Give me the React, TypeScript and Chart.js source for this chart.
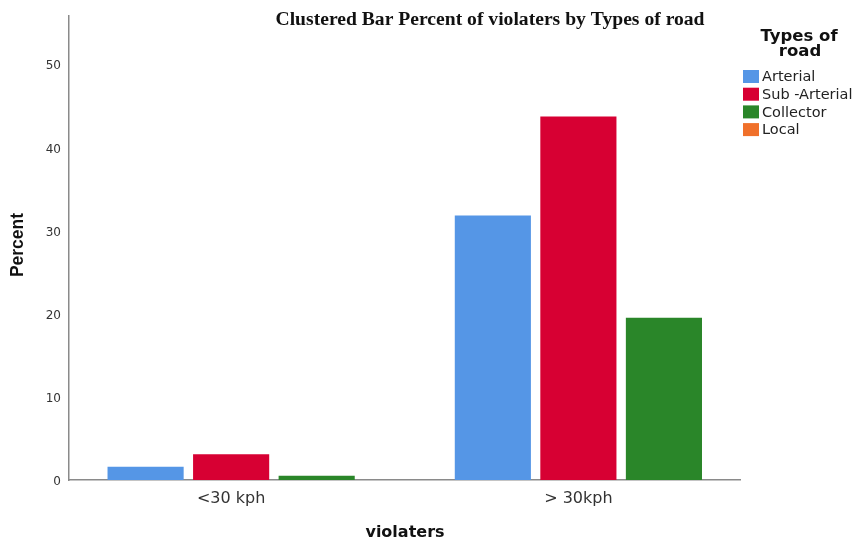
import { useEffect, useRef } from "react";
import { Chart, registerables } from "chart.js";

Chart.register(...registerables);

// ---- data ----
const chartTitle = "Clustered Bar Percent of violaters by Types of road";
const xTitle = "violaters";
const yTitle = "Percent";
const legendTitle = ["Types of", "road"];
const categories = ["<30 kph", "> 30kph"];
const seriesNames = ["Arterial", "Sub -Arterial", "Collector", "Local"];
const arterial = [1.6, 31.8];
const subArterial = [3.1, 43.7];
const collector = [0.5, 19.5];
const local: (number | null)[] = [null, null];
const seriesColors = ["#5596E6", "#D70033", "#2A8629", "#F0702A"];
const yTicks = [0, 10, 20, 30, 40, 50];

const seriesValues = [arterial, subArterial, collector, local];

const textPlugin = {
  id: "spssText",
  afterDraw(chart: any) {
    const ctx = chart.ctx as CanvasRenderingContext2D;
    ctx.save();
    // main title (slightly widened like the reference)
    ctx.fillStyle = "#111";
    ctx.font = 'bold 18px "Liberation Serif"';
    ctx.textAlign = "center";
    ctx.textBaseline = "alphabetic";
    ctx.save();
    ctx.translate(490, 25);
    ctx.scale(1.09, 1);
    ctx.fillText(chartTitle, 0, 0);
    ctx.restore();

    // x title
    ctx.fillStyle = "#111";
    ctx.font = 'bold 16px "DejaVu Sans"';
    ctx.fillText(xTitle, 405, 537);

    // y title
    ctx.save();
    ctx.translate(18, 245);
    ctx.rotate(-Math.PI / 2);
    ctx.font = 'bold 17.5px "Liberation Sans"';
    ctx.textBaseline = "middle";
    ctx.fillText(yTitle, 0, 0);
    ctx.restore();

    // legend
    ctx.font = 'bold 16.5px "DejaVu Sans"';
    ctx.textBaseline = "middle";
    ctx.fillStyle = "#111";
    ctx.fillText(legendTitle[0], 799, 37);
    ctx.fillText(legendTitle[1], 800, 52);

    ctx.textAlign = "left";
    ctx.font = '14.5px "DejaVu Sans"';
    chart.data.datasets.forEach((ds: any, i: number) => {
      const y = 70 + i * 17.7;
      ctx.fillStyle = ds.backgroundColor;
      ctx.fillRect(743, y, 16, 13);
      ctx.fillStyle = "#222";
      ctx.fillText(ds.label, 762, y + 7.5);
    });
    ctx.restore();
  },
};

export default function App() {
  const ref = useRef<HTMLCanvasElement | null>(null);

  useEffect(() => {
    if (!ref.current) return;
    const axisBorder = { display: true, color: "#8a8a8a", width: 1.5 };
    const chart = new Chart(ref.current, {
      type: "bar",
      data: {
        datasets: seriesNames.map((name, si) => ({
          label: name,
          data: seriesValues[si].map((v, ci) => ({ x: ci, y: v })),
          backgroundColor: seriesColors[si],
          borderWidth: 0,
          skipNull: true,
        })),
      } as any,
      options: {
        animation: false,
        responsive: false,
        maintainAspectRatio: false,
        layout: { padding: { left: 0, right: 116, top: 16, bottom: 32 } },
        datasets: {
          bar: { skipNull: true, categoryPercentage: 0.739, barPercentage: 0.89 },
        } as any,
        plugins: {
          legend: { display: false },
          tooltip: { enabled: false },
          title: { display: false },
        },
        scales: {
          x: {
            type: "linear",
            offset: false,
            min: -0.4669,
            max: 1.4654,
            grid: { display: false, drawTicks: false },
            border: axisBorder,
            afterBuildTicks: (s: any) => {
              s.ticks = categories.map((_, i) => ({ value: i }));
            },
            afterFit: (s: any) => {
              s.height = 30;
            },
            ticks: {
              autoSkip: false,
              maxRotation: 0,
              padding: 9,
              color: "#333",
              font: { family: "DejaVu Sans", size: 16 },
              callback: (v: any) => categories[v as number] ?? "",
            },
          },
          y: {
            min: 0,
            max: 55.8,
            grid: { display: false, drawTicks: false },
            border: axisBorder,
            afterBuildTicks: (s: any) => {
              s.ticks = yTicks.map((v) => ({ value: v }));
            },
            afterFit: (s: any) => {
              s.width = 69;
            },
            ticks: {
              padding: 8,
              labelOffset: 2,
              color: "#333",
              font: { family: "DejaVu Sans", size: 12 },
            },
          },
        },
      } as any,
      plugins: [textPlugin],
    });
    return () => chart.destroy();
  }, []);

  return (
    <div style={{ position: "absolute", left: 0, top: 0, width: 856, height: 542, background: "#fff" }}>
      <canvas ref={ref} width={856} height={542} style={{ display: "block" }} />
    </div>
  );
}
